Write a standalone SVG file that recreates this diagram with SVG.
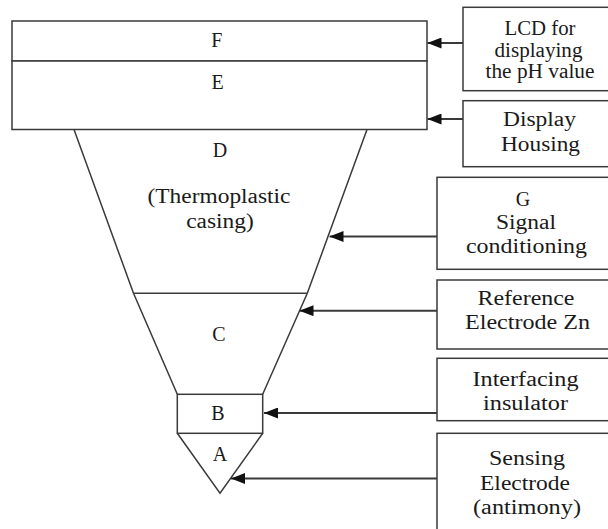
<svg xmlns="http://www.w3.org/2000/svg" width="608" height="529" viewBox="0 0 608 529">
<style>
.s{fill:none;stroke:#3a3a3a;stroke-width:1.5}
.b{fill:#fff;stroke:#3a3a3a;stroke-width:1.5}
.c{fill:none;stroke:#3a3a3a;stroke-width:2}
text{font-family:"Liberation Serif","Times New Roman","DejaVu Serif",serif;font-size:20px;fill:#1a1a1a;text-anchor:middle}
</style>
<defs>
<marker id="ah" markerWidth="14" markerHeight="11" refX="14" refY="5.5" orient="auto" markerUnits="userSpaceOnUse">
<path d="M0,0 L14,5.5 L0,11 Z" fill="#111"/>
</marker>
</defs>
<rect width="608" height="529" fill="#fff"/>
<g id="nodeF">
<rect class="b" x="12" y="21" width="415" height="40"/>
<text x="216.7" y="46.5">F</text>
</g>
<g id="nodeE">
<rect class="b" x="12" y="61" width="415" height="68.5"/>
<text x="217.5" y="88.5">E</text>
</g>
<g id="nodeD">
<path class="s" d="M74,129.5 L133.5,293.3 M367,129.5 L307.3,293.3 M133.5,293.3 L307.3,293.3"/>
<text x="220" y="157">D</text>
<text x="219" y="203.3" textLength="143" lengthAdjust="spacingAndGlyphs">(Thermoplastic</text>
<text x="220" y="228" textLength="67.5" lengthAdjust="spacingAndGlyphs">casing)</text>
</g>
<g id="nodeC">
<path class="s" d="M133.5,293.3 L177.3,394.3 M307.3,293.3 L262.7,394.3"/>
<text x="219" y="340.5">C</text>
</g>
<g id="nodeB">
<rect class="b" x="177.3" y="394.3" width="85.4" height="39"/>
<text x="218" y="419.5">B</text>
</g>
<g id="nodeA">
<path class="s" d="M177.3,433.3 L220,493.3 L262.7,433.3"/>
<text x="220" y="461">A</text>
</g>
<g id="lcd">
<rect class="b" x="463" y="7.3" width="160" height="83.4"/>
<text x="540" y="35" textLength="71" lengthAdjust="spacingAndGlyphs">LCD for</text>
<text x="538.5" y="56.7" textLength="88" lengthAdjust="spacingAndGlyphs">displaying</text>
<text x="540" y="78" textLength="109" lengthAdjust="spacingAndGlyphs">the pH value</text>
</g>
<g id="housing">
<rect class="b" x="463" y="100.7" width="160" height="66"/>
<text x="539.5" y="126" textLength="73" lengthAdjust="spacingAndGlyphs">Display</text>
<text x="540.5" y="150.7" textLength="79" lengthAdjust="spacingAndGlyphs">Housing</text>
</g>
<g id="signal">
<rect class="b" x="437" y="177.3" width="190" height="92"/>
<text x="523" y="205.5">G</text>
<text x="526" y="229" textLength="60" lengthAdjust="spacingAndGlyphs">Signal</text>
<text x="526.5" y="252.5" textLength="121" lengthAdjust="spacingAndGlyphs">conditioning</text>
</g>
<g id="reference">
<rect class="b" x="437" y="280" width="190" height="69"/>
<text x="526" y="305" textLength="97" lengthAdjust="spacingAndGlyphs">Reference</text>
<text x="527.5" y="329.3" textLength="125" lengthAdjust="spacingAndGlyphs">Electrode Zn</text>
</g>
<g id="insulator">
<rect class="b" x="437" y="358.3" width="190" height="62.4"/>
<text x="525.5" y="386" textLength="106" lengthAdjust="spacingAndGlyphs">Interfacing</text>
<text x="525.5" y="410" textLength="85" lengthAdjust="spacingAndGlyphs">insulator</text>
</g>
<g id="sensing">
<rect class="b" x="437" y="433.3" width="190" height="110"/>
<text x="527" y="464.5" textLength="76" lengthAdjust="spacingAndGlyphs">Sensing</text>
<text x="525" y="490" textLength="90" lengthAdjust="spacingAndGlyphs">Electrode</text>
<text x="527" y="514" textLength="108" lengthAdjust="spacingAndGlyphs">(antimony)</text>
</g>
<g id="connectors">
<line class="c" x1="463" y1="43" x2="427.5" y2="43" marker-end="url(#ah)"/>
<line class="c" x1="463" y1="119" x2="427.5" y2="119" marker-end="url(#ah)"/>
<line class="c" x1="437" y1="236.5" x2="329.5" y2="236.5" marker-end="url(#ah)"/>
<line class="c" x1="437" y1="310.7" x2="299.5" y2="310.7" marker-end="url(#ah)"/>
<line class="c" x1="437" y1="413" x2="264" y2="413" marker-end="url(#ah)"/>
<line class="c" x1="437" y1="478.5" x2="231" y2="478.5" marker-end="url(#ah)"/>
</g>
</svg>
